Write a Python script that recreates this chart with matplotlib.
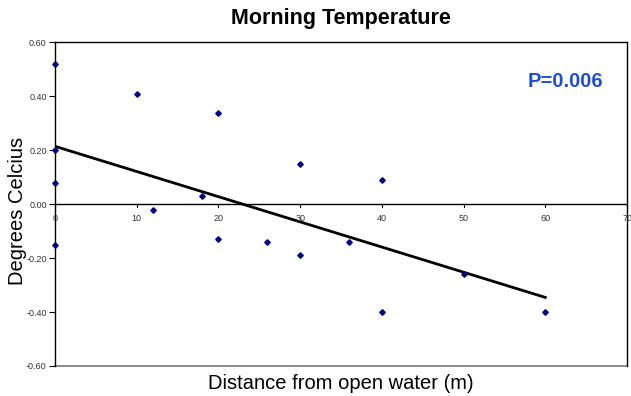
import numpy as np
import matplotlib
matplotlib.use("Agg")
import matplotlib.pyplot as plt

plt.rcParams['font.family'] = ['Liberation Sans', 'DejaVu Sans']

distance = [0, 0, 0, 0, 10, 12, 18, 20, 20, 26, 30, 30, 36, 40, 40, 50, 60]
temperature = [0.52, 0.20, 0.08, -0.15, 0.41, -0.02, 0.03, 0.34, -0.13, -0.14,
               0.15, -0.19, -0.14, 0.09, -0.40, -0.26, -0.40]
x_ticks = [0, 10, 20, 30, 40, 50, 60, 70]
y_ticks = [-0.60, -0.40, -0.20, 0.00, 0.20, 0.40, 0.60]
title = "Morning Temperature"
p_text = "P=0.006"

fig = plt.figure(figsize=(6.31, 3.96), dpi=100)
ax = fig.add_axes([0.0872, 0.0758, 0.9065, 0.8169])

x = np.array(distance)
y = np.array(temperature)
slope, intercept = np.polyfit(x, y, 1)
xl = np.array([x.min(), x.max()])
ax.plot(xl, slope * xl + intercept, color='black', lw=2, zorder=2)
ax.plot(x, y, linestyle='none', marker='D', markersize=2.8, color='#000080',
        clip_on=False, zorder=3)

ax.set_xlim(0, 70)
ax.set_ylim(-0.6, 0.6)

# x axis at y=0
ax.spines['bottom'].set_visible(False)
ax.axhline(0, color='black', lw=1, zorder=1)
ax.axhline(-0.6, color='#777777', lw=1.2, zorder=1, clip_on=False)
for s in ['left', 'top', 'right']:
    ax.spines[s].set_linewidth(1)
ax.set_xticks([])
for xt in x_ticks:
    ax.plot([xt, xt], [0, -0.012], color='black', lw=0.8, clip_on=False, zorder=1)
    ax.text(xt, -0.037, str(xt), ha='center', va='top', fontsize=6.5,
            color='#333333')

ax.set_yticks(y_ticks)
ax.set_yticklabels([f"{v:.2f}" for v in y_ticks], fontsize=6.5, color='#333333')
ax.tick_params(axis='y', length=4, width=0.8, pad=2, direction='out')

ax.set_title(title, fontsize=15.5, fontweight='bold', pad=13)
ax.set_ylabel("Degrees Celcius", fontsize=14.5, labelpad=0)
ax.yaxis.set_label_coords(-0.049, 0.48)
ax.set_xlabel("Distance from open water (m)", fontsize=14.5, labelpad=6)

ax.text(0.958, 0.88, p_text, transform=ax.transAxes, ha='right', va='center',
        fontsize=14.5, fontweight='bold', color='#1F4FD0')

fig.savefig("out.png", dpi=100)
